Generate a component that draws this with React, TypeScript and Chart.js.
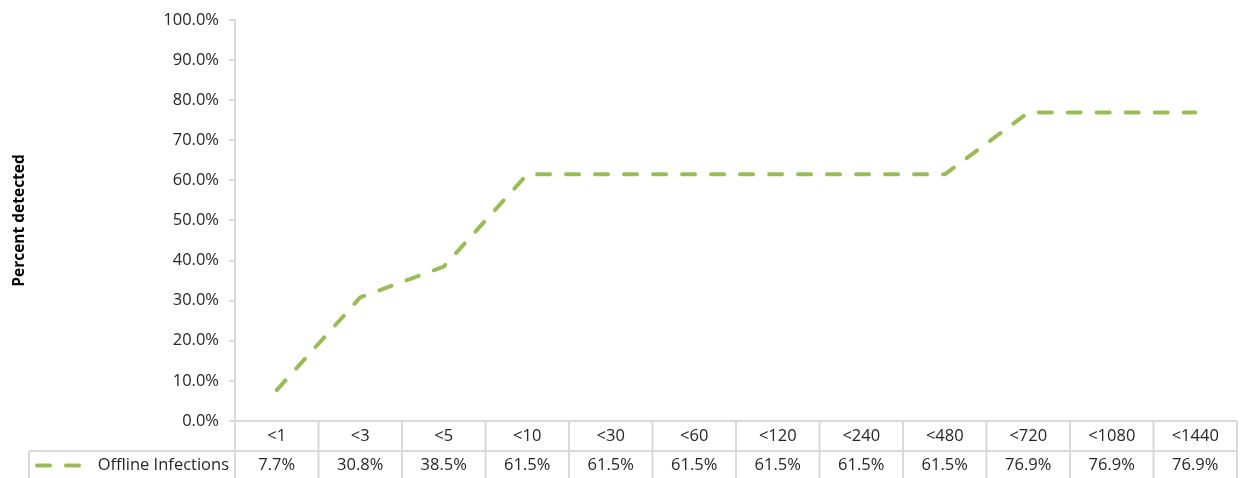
import React, { useEffect, useRef } from "react";
import { Chart, registerables } from "chart.js";

Chart.register(...registerables);

const categories = ["<1", "<3", "<5", "<10", "<30", "<60", "<120", "<240", "<480", "<720", "<1080", "<1440"];
const seriesName = "Offline Infections";
const offlineInfections = [7.7, 30.8, 38.5, 61.5, 61.5, 61.5, 61.5, 61.5, 61.5, 76.9, 76.9, 76.9];
const yTickValues = [0, 10, 20, 30, 40, 50, 60, 70, 80, 90, 100];
const yTitle = "Percent detected";

const FONT = "'Open Sans', 'Liberation Sans', sans-serif";
const TEXT = "#262626";
const GRID = "#D9D9D9";
const LINE = "#9BBB59";

const tablePlugin = {
  id: "dataTable",
  afterDraw(chart: any) {
    const { ctx, chartArea, scales } = chart;
    const x = scales.x;
    const n = categories.length;
    const colW = x.getPixelForValue(1) - x.getPixelForValue(0);
    const left = chartArea.left;
    const right = x.getPixelForValue(n - 1) + colW / 2;
    const top = chartArea.bottom;
    const mid = top + 30;
    const bottom = chart.height + 2;
    const legendLeft = 29;

    ctx.save();
    ctx.strokeStyle = GRID;
    ctx.lineWidth = 2;
    const line = (x1: number, y1: number, x2: number, y2: number) => {
      ctx.beginPath();
      ctx.moveTo(x1, y1);
      ctx.lineTo(x2, y2);
      ctx.stroke();
    };
    line(left, top, right, top);
    line(legendLeft, mid, right, mid);
    for (let i = 0; i <= n; i++) {
      const cx = i === 0 ? left : x.getPixelForValue(i - 1) + colW / 2;
      line(cx, top, cx, bottom);
    }
    line(legendLeft, mid, legendLeft, bottom);

    ctx.fillStyle = TEXT;
    ctx.font = `16.5px ${FONT}`;
    ctx.textAlign = "center";
    ctx.textBaseline = "middle";
    for (let i = 0; i < n; i++) {
      const cx = x.getPixelForValue(i);
      ctx.fillText(categories[i], cx, top + 15.5);
      ctx.fillText(offlineInfections[i].toFixed(1) + "%", cx, mid + 14.5);
    }
    ctx.textAlign = "right";
    ctx.fillText(seriesName, left - 6, mid + 14.5);

    ctx.strokeStyle = LINE;
    ctx.lineWidth = 4;
    ctx.lineCap = "round";
    ctx.setLineDash([13, 16]);
    line(37, mid + 14.5, 82, mid + 14.5);
    ctx.restore();
  },
};

export default function App() {
  const ref = useRef<HTMLCanvasElement>(null);
  useEffect(() => {
    if (!ref.current) return;
    const chart = new Chart(ref.current, {
      type: "line",
      data: {
        labels: categories,
        datasets: [
          {
            label: seriesName,
            data: offlineInfections,
            borderColor: LINE,
            backgroundColor: LINE,
            borderWidth: 4,
            borderDash: [13, 16],
            borderCapStyle: "round",
            borderJoinStyle: "round",
            pointRadius: 0,
            tension: 0,
            fill: false,
          },
        ],
      },
      options: {
        animation: false,
        responsive: true,
        maintainAspectRatio: false,
        layout: { padding: { top: 19, right: 4, bottom: 57, left: 0 } },
        plugins: { legend: { display: false }, tooltip: { enabled: false } },
        scales: {
          x: { display: false, offset: true },
          y: {
            min: 0,
            max: 100,
            afterBuildTicks: (s: any) => {
              s.ticks = yTickValues.map((v) => ({ value: v }));
            },
            afterFit: (s: any) => {
              s.width = 235;
            },
            ticks: {
              padding: 10,
              color: TEXT,
              font: { family: FONT, size: 16.5 },
              callback: (v: any) => Number(v).toFixed(1) + "%",
            },
            grid: { drawOnChartArea: false, drawTicks: true, tickLength: 6, color: GRID, lineWidth: 2 },
            border: { display: true, color: GRID, width: 2 },
            title: {
              display: true,
              text: yTitle,
              color: "#000000",
              font: { family: FONT, size: 15.5, weight: "bold" },
              padding: { top: 10, bottom: 0 },
            },
          },
        },
      },
      plugins: [tablePlugin],
    });
    return () => chart.destroy();
  }, []);
  return (
    <div style={{ position: "fixed", left: 0, top: 0, width: 1241, height: 478, background: "#fff" }}>
      <canvas ref={ref} />
    </div>
  );
}
